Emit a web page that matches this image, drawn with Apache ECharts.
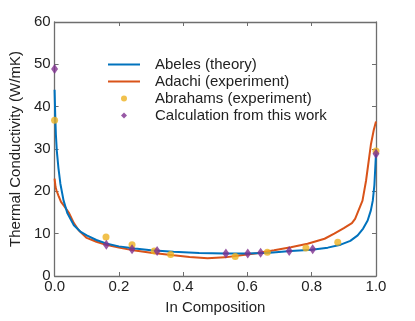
<!DOCTYPE html>
<html lang="en">
<head>
    <meta charset="UTF-8">
    <title>Thermal Conductivity</title>
    <script src="https://cdn.jsdelivr.net/npm/echarts@6/dist/echarts.min.js"></script>
    <style>
        html,body{margin:0;padding:0;background:#fff;}
        #main{width:415px;height:321px;}
    </style>
</head>
<body>
<div id="main"></div>
<script>
    // data -------------------------------------------------
    var abelesX = [0, 0.002, 0.004, 0.007, 0.012, 0.018, 0.028, 0.04, 0.06, 0.08, 0.1, 0.13, 0.16, 0.2, 0.25, 0.3, 0.37, 0.45, 0.53, 0.6, 0.67, 0.735, 0.8, 0.85, 0.89, 0.92, 0.943, 0.96, 0.974, 0.984, 0.99, 0.995, 1.0];
    var abelesY = [44, 38, 33.5, 29.5, 25.5, 21.8, 17.8, 14.8, 12, 10.5, 9.6, 8.5, 7.7, 7.0, 6.5, 6.1, 5.7, 5.45, 5.3, 5.3, 5.5, 5.9, 6.2, 6.7, 7.4, 8.3, 9.6, 11.2, 13.1, 15.5, 17.8, 21.5, 29];

    var adachiX = [0, 0.003, 0.006, 0.012, 0.02, 0.03, 0.044, 0.06, 0.075, 0.1, 0.13, 0.16, 0.2, 0.25, 0.3, 0.37, 0.42, 0.476, 0.53, 0.58, 0.63, 0.683, 0.735, 0.787, 0.84, 0.87, 0.9, 0.925, 0.935, 0.958, 0.969, 0.984, 0.993, 1.0];
    var adachiY = [23, 21, 20.2, 19, 17.5, 16.5, 15, 12.5, 10.8, 9.0, 8.1, 7.4, 6.7, 6.0, 5.5, 4.9, 4.5, 4.2, 4.4, 4.9, 5.4, 6.1, 6.8, 7.6, 8.8, 10.0, 11.3, 12.5, 13.5, 17.8, 22.5, 31, 34.5, 36.5];

    var abrahamsX = [0, 0.16, 0.241, 0.31, 0.361, 0.562, 0.662, 0.782, 0.881, 1.0];
    var abrahamsY = [36.8, 9.2, 7.4, 5.9, 5.1, 4.6, 5.6, 6.6, 8.0, 29.5];

    var calcX = [0, 0.161, 0.241, 0.319, 0.533, 0.601, 0.641, 0.73, 0.803, 1.0];
    var calcY = [48.9, 7.4, 6.3, 5.9, 5.3, 5.3, 5.5, 5.9, 6.3, 28.9];

    var seriesNames = ['Abeles (theory)', 'Adachi (experiment)', 'Abrahams (experiment)', 'Calculation from this work'];

    function pairs(xs, ys) {
        var out = [];
        for (var i = 0; i < xs.length; i++) {
            out.push([xs[i], ys[i]]);
        }
        return out;
    }

    var font = 'Liberation Sans, Arial, sans-serif';
    var axisGray = '#6e6e6e';
    var legendText = {
        fontFamily: font,
        fontSize: 15,
        color: '#222',
        lineHeight: 17
    };

    function frameAxis(pos, min, max, interval) {
        return {
            type: 'value',
            position: pos,
            min: min,
            max: max,
            interval: interval,
            axisLine: {show: true, onZero: false, lineStyle: {color: axisGray, width: 1.3}},
            axisTick: {show: true, inside: true, length: 4, lineStyle: {color: axisGray}},
            axisLabel: {show: false},
            splitLine: {show: false}
        };
    }

    var chart = echarts.init(document.getElementById('main'));
    var option = {
        animation: false,
        backgroundColor: '#fff',
        grid: {left: 54, right: 39, top: 22, bottom: 45},
        legend: [
            {   // lines
                orient: 'vertical',
                left: 108,
                top: 56,
                padding: 0,
                itemGap: 0,
                itemWidth: 32,
                itemHeight: 2,
                icon: 'rect',
                data: [seriesNames[0], seriesNames[1]],
                textStyle: Object.assign({padding: [0, 0, 0, 10]}, legendText)
            },
            {   // markers
                orient: 'vertical',
                left: 121,
                top: 90,
                padding: 0,
                itemGap: 0,
                itemWidth: 6,
                itemHeight: 6,
                symbolKeepAspect: true,
                data: [
                    {name: seriesNames[2], icon: 'circle', itemStyle: {color: '#EDB120'}},
                    {name: seriesNames[3], icon: 'diamond', itemStyle: {color: '#7E2F8E'}}
                ],
                textStyle: Object.assign({padding: [0, 0, 0, 23]}, legendText)
            }
        ],
        xAxis: [
            {
                type: 'value',
                min: 0,
                max: 1,
                interval: 0.2,
                name: 'In Composition',
                nameLocation: 'middle',
                nameGap: 24,
                nameTextStyle: {fontFamily: font, fontSize: 15, color: '#222'},
                axisLine: {show: true, onZero: false, lineStyle: {color: axisGray, width: 1.3}},
                axisTick: {show: true, inside: true, length: 4, lineStyle: {color: axisGray}},
                axisLabel: {
                    margin: 3,
                    fontFamily: font,
                    fontSize: 15,
                    color: '#222',
                    formatter: function (v) { return v.toFixed(1); }
                },
                splitLine: {show: false}
            },
            frameAxis('top', 0, 1, 0.2)
        ],
        yAxis: [
            {
                type: 'value',
                min: 0,
                max: 60,
                interval: 10,
                name: 'Thermal Conductivity (W/mK)',
                nameLocation: 'middle',
                nameGap: 20,
                nameTextStyle: {fontFamily: font, fontSize: 15, color: '#222'},
                axisLine: {show: true, onZero: false, lineStyle: {color: axisGray, width: 1.3}},
                axisTick: {show: true, inside: true, length: 4, lineStyle: {color: axisGray}},
                axisLabel: {margin: 4, fontFamily: font, fontSize: 15, color: '#222'},
                splitLine: {show: false}
            },
            frameAxis('right', 0, 60, 10)
        ],
        series: [
            {
                name: seriesNames[0],
                type: 'line',
                symbol: 'none',
                color: '#0072BD',
                lineStyle: {color: '#0072BD', width: 2},
                data: pairs(abelesX, abelesY),
                z: 3
            },
            {
                name: seriesNames[1],
                type: 'line',
                symbol: 'none',
                color: '#D95319',
                lineStyle: {color: '#D95319', width: 2},
                data: pairs(adachiX, adachiY),
                z: 2
            },
            {
                name: seriesNames[2],
                type: 'scatter',
                symbol: 'circle',
                symbolSize: 7,
                clip: false,
                itemStyle: {color: '#EDB120'},
                data: pairs(abrahamsX, abrahamsY),
                z: 4
            },
            {
                name: seriesNames[3],
                type: 'scatter',
                symbol: 'diamond',
                symbolSize: [7, 10],
                clip: false,
                itemStyle: {color: '#7E2F8E'},
                data: pairs(calcX, calcY),
                z: 5
            }
        ]
    };
    chart.setOption(option);
</script>
</body>
</html>
